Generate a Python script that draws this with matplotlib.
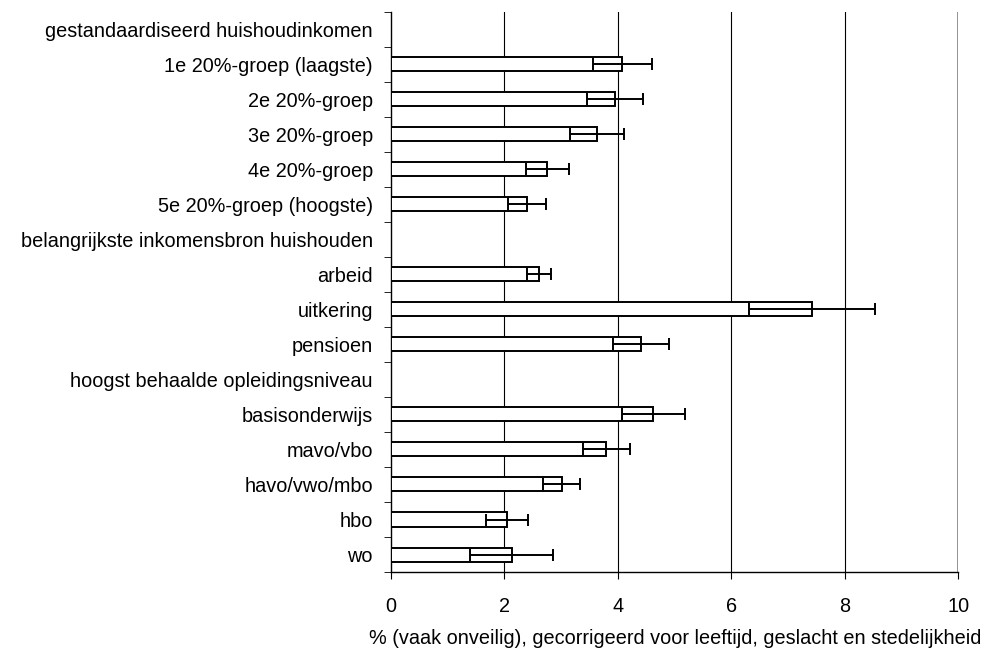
import matplotlib.pyplot as plt
import numpy as np

plt.rcParams['font.family'] = ['Liberation Sans', 'DejaVu Sans']

labels = [
    "gestandaardiseerd huishoudinkomen",
    "1e 20%-groep (laagste)",
    "2e 20%-groep",
    "3e 20%-groep",
    "4e 20%-groep",
    "5e 20%-groep (hoogste)",
    "belangrijkste inkomensbron huishouden",
    "arbeid",
    "uitkering",
    "pensioen",
    "hoogst behaalde opleidingsniveau",
    "basisonderwijs",
    "mavo/vbo",
    "havo/vwo/mbo",
    "hbo",
    "wo",
]
# None = header row without bar
values = [None, 4.08, 3.95, 3.63, 2.76, 2.40, None, 2.61, 7.43, 4.41,
          None, 4.63, 3.80, 3.01, 2.05, 2.13]
errors = [None, 0.52, 0.50, 0.48, 0.38, 0.34, None, 0.21, 1.11, 0.50,
          None, 0.56, 0.42, 0.32, 0.37, 0.73]

fs = 14.3

fig = plt.figure(figsize=(9.97, 6.53), dpi=100)
ax = fig.add_axes([0.392, 0.124, 0.569, 0.858])

n = len(labels)
pos = np.arange(n)
bar_idx = [i for i, v in enumerate(values) if v is not None]
vals = [values[i] for i in bar_idx]
errs = [errors[i] for i in bar_idx]

ax.barh(bar_idx, vals, height=0.4, color='white', edgecolor='black',
        linewidth=1.4, zorder=3)
ax.errorbar(vals, bar_idx, xerr=errs, fmt='none', ecolor='black',
            elinewidth=1.4, capsize=4, capthick=1.4, zorder=4)

ax.set_xlim(0, 10)
ax.set_ylim(n - 0.5, -0.5)
ax.set_xticks([0, 2, 4, 6, 8, 10])
ax.tick_params(axis='x', labelsize=fs, length=5, direction='out', pad=13)

# category labels without ticks, tick marks on the boundaries
ax.set_yticks(pos)
ax.set_yticklabels(labels, fontsize=fs)
ax.tick_params(axis='y', which='major', length=0, pad=13)
ax.set_yticks(np.arange(-0.5, n, 1), minor=True)
ax.tick_params(axis='y', which='minor', length=5, direction='out')

for g in [2, 4, 6, 8]:
    ax.axvline(g, color='black', linewidth=0.8, zorder=1)
ax.axvline(10, color='#808080', linewidth=1.2, zorder=1)

for s in ['top', 'right']:
    ax.spines[s].set_visible(False)
ax.spines['left'].set_linewidth(1.0)
ax.spines['bottom'].set_linewidth(1.0)

fig.text(0.677, 1 - 638 / 653,
         "% (vaak onveilig), gecorrigeerd voor leeftijd, geslacht en stedelijkheid",
         fontsize=fs, ha='center', va='center')

fig.savefig("out.png", dpi=100)
